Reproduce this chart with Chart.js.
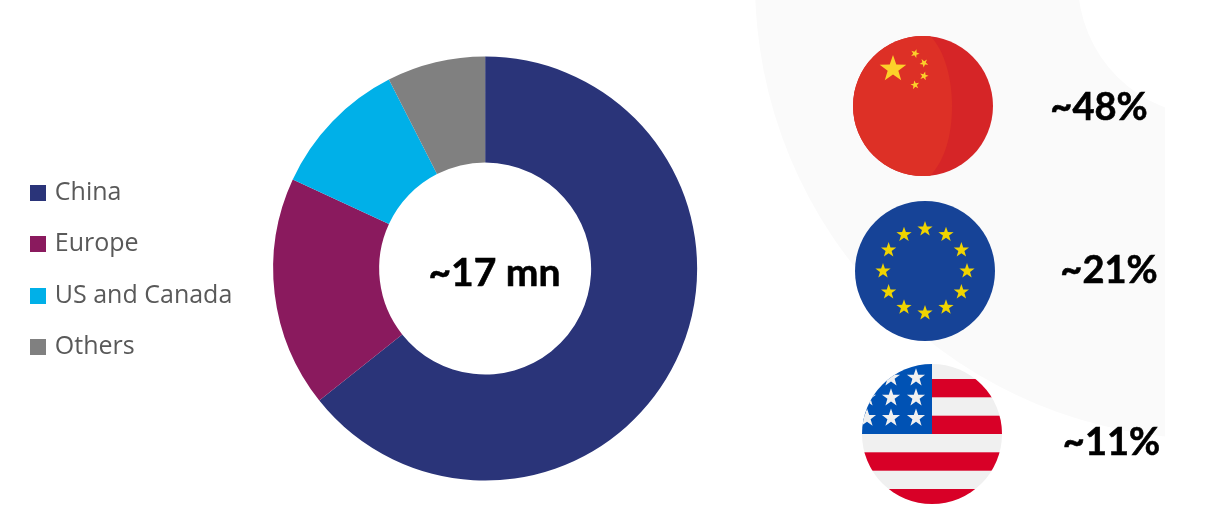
<!DOCTYPE html>
<html>
<head>
<meta charset="utf-8">
<title>Market split</title>
<script src="https://cdn.jsdelivr.net/npm/chart.js@4"></script>
<style>
    html, body { margin: 0; padding: 0; background: #fff; overflow: hidden; }
    #wrap { position: relative; width: 1229px; height: 513px; }
    #chart { position: absolute; left: 0; top: 0; }
    #art { position: absolute; left: 0; top: 0; pointer-events: none; }
    #art text { font-family: Lato, sans-serif; font-weight: 700; fill: #000; stroke: #000; stroke-width: 0.6px; }
</style>
</head>
<body>
<div id="wrap">
    <canvas id="chart" width="1229" height="513"></canvas>
    <svg id="art" width="1229" height="513" viewBox="0 0 1229 513" xmlns="http://www.w3.org/2000/svg">
        <defs>
            <clipPath id="backClip"><rect x="700" y="0" width="465" height="513"/></clipPath>
            <clipPath id="cnClip"><circle cx="923" cy="106" r="70"/></clipPath>
            <clipPath id="usClip"><circle cx="932" cy="434" r="70"/></clipPath>
        </defs>
        <path clip-path="url(#backClip)" fill="#fafafa" fill-rule="evenodd"
              d="M755,-18 a457,457 0 1,0 914,0 a457,457 0 1,0 -914,0 Z M1078,-18 a134,134 0 1,0 268,0 a134,134 0 1,0 -268,0 Z"/>

        <g id="flagCn" clip-path="url(#cnClip)">
            <rect x="853" y="36" width="140" height="140" fill="#d62527"/>
            <path fill="#dd3026" d="M853,36 H930 C945,50 952,80 952,106 C952,135 945,160 930,176 H853 Z"/>
        </g>
        <g id="flagEu"><circle cx="925" cy="271" r="70" fill="#164397"/></g>
        <g id="flagUs" clip-path="url(#usClip)">
            <rect x="862" y="364" width="140" height="140" fill="#f0f0f0"/>
            <rect x="932" y="379" width="70" height="18.3" fill="#d80027"/>
            <rect x="932" y="415.7" width="70" height="18.3" fill="#d80027"/>
            <rect x="862" y="452.3" width="140" height="18.4" fill="#d80027"/>
            <rect x="862" y="489" width="140" height="15" fill="#d80027"/>
            <rect x="862" y="364" width="70" height="70" fill="#0052b4"/>
        </g>

        <text x="494.5" y="286" font-size="39" text-anchor="middle">~17 mn</text>
        <text x="1099" y="120" font-size="38" text-anchor="middle">~48%</text>
        <text x="1109" y="283" font-size="38" text-anchor="middle">~21%</text>
        <text x="1111.5" y="455" font-size="38" text-anchor="middle">~11%</text>
    </svg>
</div>
<script>
const categories = ["China", "Europe", "US and Canada", "Others"];
const shares = [64.3, 17.6, 10.6, 7.5];
const sliceColors = ["#2a3479", "#8a1a5e", "#00b0e8", "#808080"];

// flag stars
const cnStars = [[893, 69, 14, 0], [915, 53.5, 4.6, 20], [924, 63, 4.6, 40], [924, 76, 4.6, 15], [915, 85, 4.6, -10]];
const usStars = [[916, 377.7], [891, 377.7], [916, 397.7], [891, 397.7], [867, 397.7], [916, 418], [891, 418], [867, 418]];
const euRingRadius = 42;

function starPath(cx, cy, r, rot) {
    let d = "";
    for (let i = 0; i < 10; i++) {
        const rad = i % 2 ? r * 0.4 : r;
        const a = (rot + i * 36 - 90) * Math.PI / 180;
        d += (i ? "L" : "M") + (cx + rad * Math.cos(a)).toFixed(2) + "," + (cy + rad * Math.sin(a)).toFixed(2);
    }
    return d + "Z";
}

function addStar(groupId, cx, cy, r, rot, color) {
    const el = document.createElementNS("http://www.w3.org/2000/svg", "path");
    el.setAttribute("d", starPath(cx, cy, r, rot));
    el.setAttribute("fill", color);
    document.getElementById(groupId).appendChild(el);
}

cnStars.forEach(s => addStar("flagCn", s[0], s[1], s[2], s[3], "#fcd02a"));
for (let i = 0; i < 12; i++) {
    const a = i * 30 * Math.PI / 180;
    addStar("flagEu", 925 + euRingRadius * Math.sin(a), 271 - euRingRadius * Math.cos(a), 8, 0, "#f0d400");
}
usStars.forEach(s => addStar("flagUs", s[0], s[1], 9.5, 0, "#f0f0f0"));

// legend swatch wider than the label box, keeps the text close to the square
function swatch(color) {
    const c = document.createElement("canvas");
    c.width = 16;
    c.height = 16;
    const g = c.getContext("2d");
    g.fillStyle = color;
    g.fillRect(0, 0, 16, 16);
    return c;
}

// nudge the legend down a little, it centres on the padded box otherwise
const legendNudge = {
    id: "legendNudge",
    afterLayout(chart) {
        chart.legend.top += 1.5;
        chart.legend.bottom += 1.5;
    }
};

new Chart(document.getElementById("chart").getContext("2d"), {
    type: "doughnut",
    data: {
        labels: categories,
        datasets: [{ data: shares, backgroundColor: sliceColors, borderWidth: 0 }]
    },
    plugins: [legendNudge],
    options: {
        responsive: false,
        animation: false,
        cutout: "50%",
        layout: { padding: { left: 8, top: 56.5, bottom: 32.5, right: 501 } },
        plugins: {
            tooltip: { enabled: false },
            legend: {
                position: "left",
                labels: {
                    color: "#595959",
                    font: { family: "Open Sans", size: 25 },
                    usePointStyle: true,
                    boxWidth: 8,
                    pointStyleWidth: 8,
                    boxHeight: 16,
                    padding: 26.3,
                    generateLabels(chart) {
                        const items = Chart.overrides.doughnut.plugins.legend.labels.generateLabels(chart);
                        items.forEach((it, i) => { it.pointStyle = swatch(sliceColors[i]); });
                        return items;
                    }
                }
            }
        }
    }
});
</script>
</body>
</html>
